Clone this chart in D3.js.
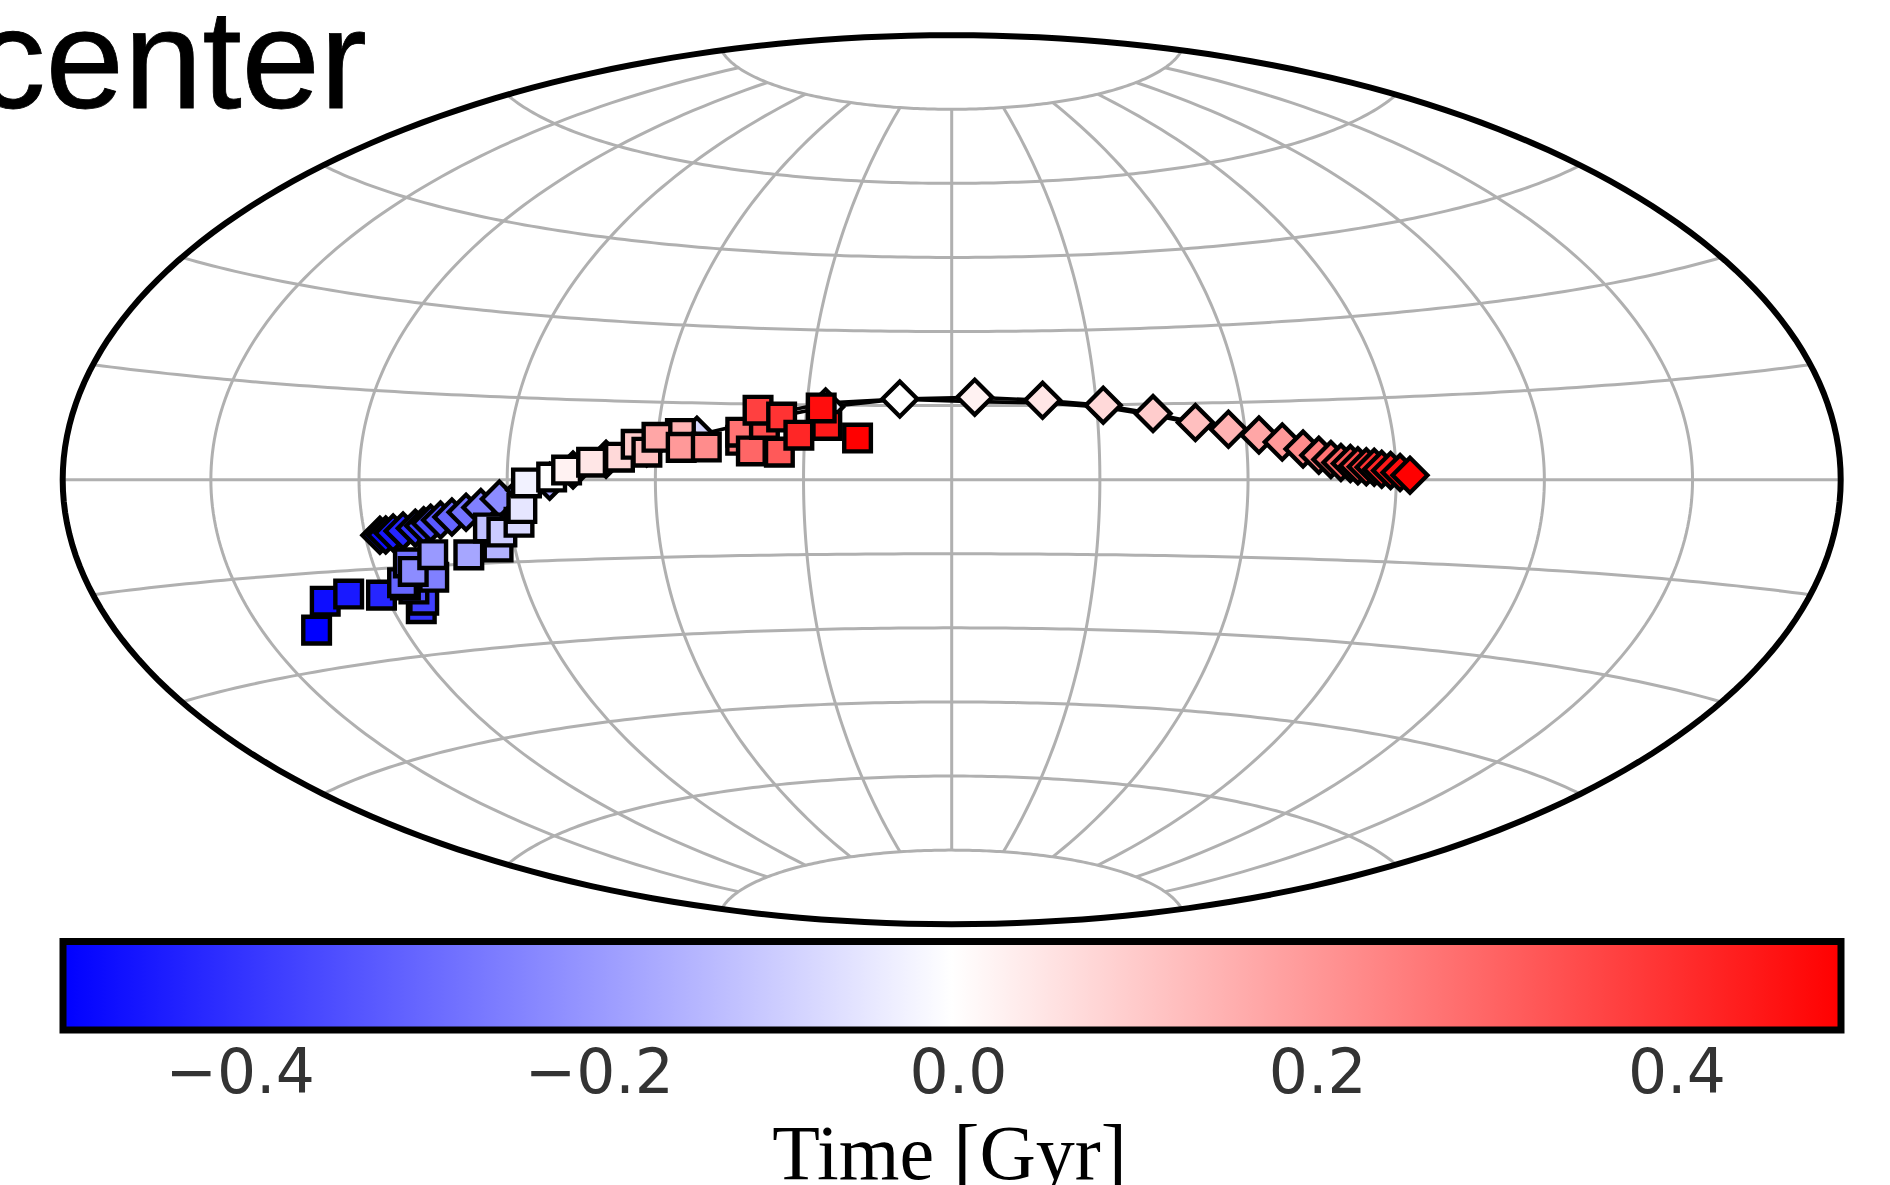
<!DOCTYPE html>
<html>
<head>
<meta charset="utf-8">
<script src="https://cdn.jsdelivr.net/npm/d3@7"></script>
<style>
  html, body { margin: 0; padding: 0; background: #fff; overflow: hidden; }
</style>
</head>
<body>
<script>
const width = 1890;
const height = 1185;

// time of each sample, Gyr (both tracks share it)
const times = [
  -0.5, -0.475, -0.45, -0.425, -0.4, -0.375, -0.35, -0.325, -0.3, -0.275, -0.25, -0.225, -0.2, -0.175,
  -0.15, -0.125, -0.1, -0.075, -0.05, -0.025, 0, 0.025, 0.05, 0.075, 0.1, 0.125, 0.15, 0.175,
  0.2, 0.225, 0.25, 0.275, 0.3, 0.325, 0.35, 0.375, 0.4, 0.425, 0.45, 0.475, 0.5,
];

// diamonds, degrees
const diamondLon = [
  -117, -115.8, -114.2, -112.1, -109.5, -107.7, -106.2, -104.1, -101.7, -98.7, -95.6, -91.7, -86.5, -81.4,
  -76.7, -70.1, -62, -52, -39.3, -26.1, -10.8, 4.8, 18.9, 31.4, 41.5, 50, 56.6, 62.7,
  67.3, 71.4, 74.5, 76.9, 78.9, 80.8, 82.3, 84, 85.6, 87.1, 88.9, 90.8, 92.8,
];
const diamondLat = [
  -9.4, -9.4, -9.1, -8.8, -8.4, -8, -7.6, -7.1, -6.6, -5.8, -5, -3.5, -1.9, -0.3,
  1.8, 3.9, 6.1, 8.7, 11.8, 14.6, 16.3, 16.7, 16, 14.9, 13.1, 11.2, 9.8, 8.6,
  7.2, 5.8, 4.6, 3.8, 3.2, 3, 2.6, 2.4, 2.3, 1.9, 1.7, 1.3, 0.8,
];

// squares, degrees
const squareLon = [
  -138.6, -133.2, -127.6, -120.9, -114, -112.6, -113.6, -115, -115.4, -112.7, -108.5, -112.3, -107.2, -99.8,
  -93.4, -94.6, -92, -88.2, -87.3, -86.1, -81, -78, -73, -67.4, -64.2, -61.9, -55.4, -60.1,
  -55, -49.9, -43, -43.1, -40.7, -35, -38.4, -40, -35, -31.2, -25.6, -27, -19.2,
];
const squareLat = [
  -23.9, -19.6, -18.8, -19.4, -22.2, -20.8, -18.8, -18, -17.6, -14.3, -17, -15.8, -13.1, -13.4,
  -12.2, -8.7, -9.5, -7.8, -5.3, -0.6, 0.5, 1.8, 3.3, 4.3, 6.8, 5.3, 9, 8.2,
  6.3, 6.4, 7.8, 9.4, 5.7, 5.5, 11, 13.8, 12.5, 8.9, 10.9, 14.4, 8.4,
];

// second strand of the black line, it splits off around t = 0
const strandLon = [-39.3, -26.2, -10.8, 4.8, 18.9, 31.3, 41.4, 50];
const strandLat = [12.6, 15.4, 16.3, 15.8, 15.5, 14.5, 12.8, 11];

const parallels = [-75, -60, -45, -30, -15, 0, 15, 30, 45, 60, 75];
const meridians = [-150, -120, -90, -60, -30, 0, 30, 60, 90, 120, 150];
const latCap = 75;

const colorTicks = [-0.4, -0.2, 0, 0.2, 0.4];
const tickLabels = ['\u22120.4', '\u22120.2', '0.0', '0.2', '0.4'];

function aitoffRaw(lambda, phi) {
  const alpha = Math.acos(Math.cos(phi) * Math.cos(lambda / 2));
  const sinc = alpha === 0 ? 1 : Math.sin(alpha) / alpha;
  return [(2 * Math.cos(phi) * Math.sin(lambda / 2)) / sinc, Math.sin(phi) / sinc];
}

const projection = d3
  .geoProjection(aitoffRaw)
  .scale(889 / Math.PI)
  .translate([951.7, 479.7])
  .precision(0.1);
const path = d3.geoPath(projection);

const color = d3.scaleLinear().domain([-0.5, 0, 0.5]).range(['#0000ff', '#ffffff', '#ff0000']);

const svg = d3.select('body').append('svg').attr('width', width).attr('height', height).style('display', 'block');

drawTitle();
drawGrid();
drawTracks();
drawColorbar();

function drawTitle() {
  svg
    .append('text')
    .attr('x', 367)
    .attr('y', 108)
    .attr('text-anchor', 'end')
    .attr('font-family', '"Liberation Sans", sans-serif')
    .attr('font-size', 141)
    .attr('fill', '#000')
    .attr('stroke', '#000')
    .attr('stroke-width', 0.8)
    .text('center');
}

function drawGrid() {
  const g = svg.append('g').attr('fill', 'none').attr('stroke', '#b0b0b0').attr('stroke-width', 3);
  const lonSteps = d3.range(-179.9, 179, 2).concat([179.9]);
  const latSteps = d3.range(-latCap, latCap + 0.1, 1);

  parallels.forEach(lat => {
    g.append('path').attr('d', path({ type: 'LineString', coordinates: lonSteps.map(lon => [lon, lat]) }));
  });
  meridians.forEach(lon => {
    g.append('path').attr('d', path({ type: 'LineString', coordinates: latSteps.map(lat => [lon, lat]) }));
  });

  svg
    .append('path')
    .attr('d', path({ type: 'Sphere' }))
    .attr('fill', 'none')
    .attr('stroke', '#000')
    .attr('stroke-width', 6);
}

function drawTracks() {
  const line = d3.line();
  const diamonds = times.map((t, i) => ({ t, xy: projection([diamondLon[i], diamondLat[i]]) }));
  const squares = times.map((t, i) => ({ t, xy: projection([squareLon[i], squareLat[i]]) }));
  const strand = strandLon.map((lon, i) => projection([lon, strandLat[i]]));

  [diamonds.map(d => d.xy), strand].forEach(points => {
    svg
      .append('path')
      .attr('d', line(points))
      .attr('fill', 'none')
      .attr('stroke', '#000')
      .attr('stroke-width', 3.6);
  });

  svg
    .append('g')
    .selectAll('path')
    .data(diamonds)
    .enter()
    .append('path')
    .attr('d', d3.symbol(d3.symbolSquare, 610))
    .attr('transform', d => `translate(${d.xy[0]},${d.xy[1]}) rotate(45)`)
    .attr('fill', d => color(d.t))
    .attr('stroke', '#000')
    .attr('stroke-width', 4.3);

  svg
    .append('g')
    .selectAll('path')
    .data(squares)
    .enter()
    .append('path')
    .attr('d', d3.symbol(d3.symbolSquare, 710))
    .attr('transform', d => `translate(${d.xy[0]},${d.xy[1]})`)
    .attr('fill', d => color(d.t))
    .attr('stroke', '#000')
    .attr('stroke-width', 4.4);
}

function drawColorbar() {
  const gradient = svg
    .append('defs')
    .append('linearGradient')
    .attr('id', 'bwr')
    .attr('x1', 0)
    .attr('x2', 1)
    .attr('y1', 0)
    .attr('y2', 0);
  color.domain().forEach(t => {
    gradient
      .append('stop')
      .attr('offset', t + 0.5)
      .attr('stop-color', color(t));
  });

  svg
    .append('rect')
    .attr('x', 63)
    .attr('y', 941.5)
    .attr('width', 1778)
    .attr('height', 88.5)
    .attr('fill', 'url(#bwr)')
    .attr('stroke', '#000')
    .attr('stroke-width', 7);

  // tick labels sit a little wider apart than the bar itself
  const tickScale = d3.scaleLinear().domain([-0.5, 0.5]).range([60, 1856]);
  const axis = d3
    .axisBottom(tickScale)
    .tickValues(colorTicks)
    .tickSize(0)
    .tickPadding(0)
    .tickFormat((_, i) => tickLabels[i]);
  const axisG = svg.append('g').attr('transform', 'translate(0, 1033)').call(axis);
  axisG.select('.domain').remove();
  axisG
    .selectAll('text')
    .attr('y', 60)
    .attr('dy', 0)
    .attr('font-family', '"DejaVu Sans", sans-serif')
    .attr('font-size', 61.5)
    .attr('fill', '#333333');

  svg
    .append('text')
    .attr('x', 949.5)
    .attr('y', 1179)
    .attr('text-anchor', 'middle')
    .attr('font-family', '"Liberation Serif", serif')
    .attr('font-size', 78)
    .attr('fill', '#000')
    .text('Time [Gyr]');
}
</script>
</body>
</html>
